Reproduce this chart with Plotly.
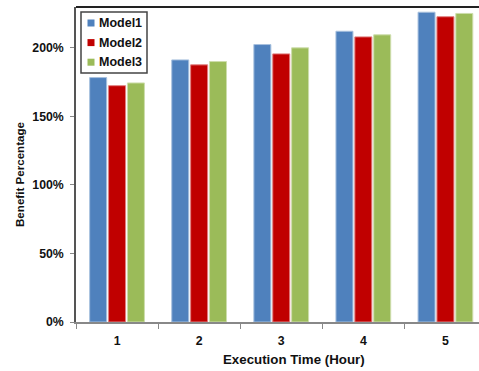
import plotly.graph_objects as go

# Benefit percentage per execution time, three models
hours = ["1", "2", "3", "4", "5"]
model1 = [178.3, 191.2, 202.4, 212.1, 226.0]
model2 = [172.4, 187.6, 195.6, 208.0, 222.7]
model3 = [174.4, 190.0, 200.0, 209.5, 225.1]
y_ticks = [0, 50, 100, 150, 200]

series = [
    ("Model1", model1, "#4F81BD", "#A7C0DE"),
    ("Model2", model2, "#C00000", "#E08080"),
    ("Model3", model3, "#9BBB59", "#CDDDAC"),
]

FONT = "Liberation Sans, Arial, sans-serif"
W, H = 479, 371
ML, MR, MT, MB = 76, 0, 7, 49
PW, PH = W - ML - MR, H - MT - MB


def px_x(px):
    return (px - ML) / PW


def px_y(py):
    return (H - MB - py) / PH


fig = go.Figure()
for name, vals, color, edge in series:
    fig.add_trace(go.Bar(
        x=hours, y=vals, name=name,
        marker=dict(color=color, line=dict(color=edge, width=1)),
    ))

fig.update_layout(
    width=W, height=H,
    margin=dict(l=ML, r=MR, t=MT, b=MB),
    paper_bgcolor="white", plot_bgcolor="white",
    barmode="group", bargap=0.31, bargroupgap=0.1,
    font=dict(family=FONT, size=12, color="#111"),
    showlegend=False,
    xaxis=dict(
        range=[-0.5, 4.409], type="category",
        showline=True, linecolor="#888", linewidth=1.5,
        ticks="outside", tickson="boundaries", ticklen=5, tickcolor="#888",
        ticklabelstandoff=6,
        tickfont=dict(family=FONT, size=12.3, color="#111", weight="bold"),
        showgrid=False, zeroline=False,
    ),
    yaxis=dict(
        range=[0, 229.8],
        tickvals=y_ticks, ticktext=[f"{v}%" for v in y_ticks],
        showline=True, linecolor="#555", linewidth=1.5,
        ticks="outside", ticklen=4, tickcolor="#888",
        ticklabelstandoff=4,
        tickfont=dict(family=FONT, size=12.3, color="#111", weight="bold"),
        showgrid=False, zeroline=False,
    ),
)

# axis titles
fig.add_annotation(xref="paper", yref="paper", x=px_x(294), y=px_y(359.5),
                   xanchor="center", yanchor="middle", showarrow=False,
                   text="<b>Execution Time (Hour)</b>",
                   font=dict(family=FONT, size=13.3, color="#111"))
fig.add_annotation(xref="paper", yref="paper", x=px_x(19), y=px_y(174),
                   xanchor="center", yanchor="middle", showarrow=False,
                   textangle=-90, text="<b>Benefit Percentage</b>",
                   font=dict(family=FONT, size=11.6, color="#111"))

# dark frame line along the top of the plot area
fig.add_shape(type="line", xref="paper", yref="paper",
              x0=0, x1=1, y0=1, y1=1,
              line=dict(color="#222", width=2))

# compact boxed legend in the upper-left corner
fig.add_shape(type="rect", xref="paper", yref="paper",
              x0=px_x(81), x1=px_x(147), y0=px_y(73), y1=px_y(12),
              fillcolor="white", line=dict(color="#444", width=1.5))
for i, (name, _vals, color, _edge) in enumerate(series):
    cy = 23 + i * 19.6
    fig.add_shape(type="rect", xref="paper", yref="paper",
                  x0=px_x(87.5), x1=px_x(94.5), y0=px_y(cy + 3.5), y1=px_y(cy - 3.5),
                  fillcolor=color, line=dict(width=0))
    fig.add_annotation(xref="paper", yref="paper", x=px_x(97), y=px_y(cy),
                       xanchor="left", yanchor="middle", showarrow=False,
                       text=f"<b>{name}</b>",
                       font=dict(family=FONT, size=12.5, color="#111"))

fig.write_html("out.html")
